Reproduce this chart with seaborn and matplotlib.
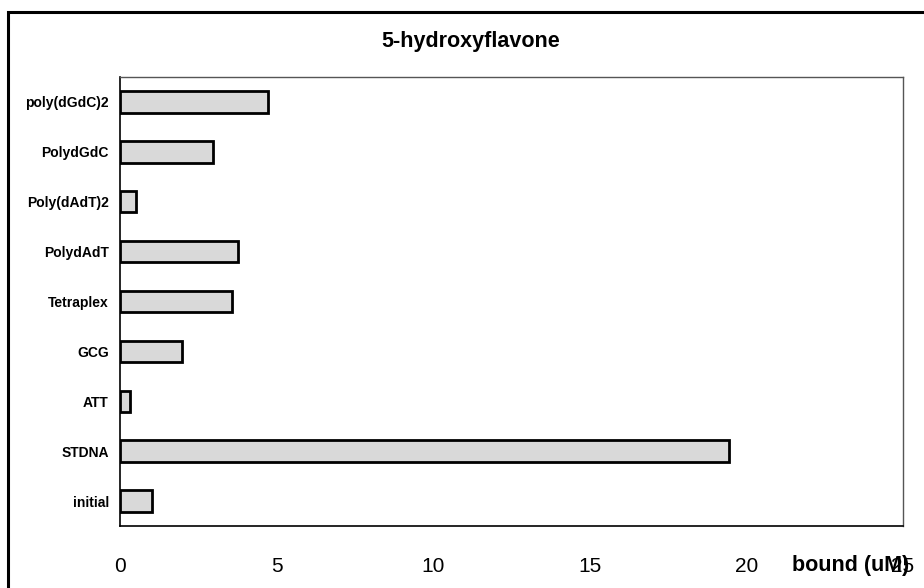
import matplotlib
matplotlib.use("Agg")
import matplotlib.pyplot as plt
import matplotlib.patches as mpatches
import seaborn as sns
import pandas as pd

# values (top to bottom)
categories = ["poly(dGdC)2", "PolydGdC", "Poly(dAdT)2", "PolydAdT", "Tetraplex",
              "GCG", "ATT", "STDNA", "initial"]
bound_um = [4.73, 2.98, 0.51, 3.78, 3.59, 1.98, 0.32, 19.46, 1.01]
x_ticks = [0, 5, 10, 15, 20, 25]

df = pd.DataFrame({"sample": categories, "bound": bound_um})

sns.set_style("white")
plt.rcParams["font.family"] = ["Liberation Sans", "DejaVu Sans"]
plt.rcParams["text.color"] = "black"
plt.rcParams["xtick.color"] = "black"
plt.rcParams["ytick.color"] = "black"

fig = plt.figure(figsize=(9.24, 5.88), dpi=100)
ax = fig.add_axes([120 / 924, 1 - 526 / 588, (903 - 120) / 924, (526 - 77) / 588])

sns.barplot(data=df, x="bound", y="sample", order=categories, orient="h",
            color="#d9d9d9", edgecolor="black", linewidth=2, width=0.43,
            saturation=1, ax=ax)

ax.set_xlim(0, 25)
ax.set_ylim(len(categories) - 0.5, -0.5)
ax.set_xticks(x_ticks)
ax.set_xticklabels([str(t) for t in x_ticks], fontsize=15)
ax.tick_params(axis="x", direction="out", length=4, width=1, pad=18)
ax.set_yticks(range(len(categories)))
ax.set_yticklabels(categories, fontsize=10, fontweight="bold")
ax.set_yticks([i + 0.5 for i in range(-1, len(categories))], minor=True)
ax.tick_params(axis="y", which="major", length=0, pad=8)
ax.tick_params(axis="y", which="minor", direction="out", length=4, width=1)
ax.set_xlabel("")
ax.set_ylabel("")

for side in ["left", "bottom"]:
    ax.spines[side].set_color("black")
    ax.spines[side].set_linewidth(1.2)
for side in ["top", "right"]:
    ax.spines[side].set_color("#555555")
    ax.spines[side].set_linewidth(1)

# axis label sits in the bottom right corner, over the last tick label
fig.text(851 / 924, 1 - 565 / 588, "bound (uM)", fontsize=15.5, fontweight="bold",
         ha="center", va="center")

fig.text(471 / 924, 1 - 42 / 588, "5-hydroxyflavone", fontsize=15.5,
         fontweight="bold", ha="center", va="center")

# outer frame of the chart object
frame = mpatches.Rectangle((8 / 924, -0.05), 1.0, 1 - 12 / 588 + 0.05,
                           transform=fig.transFigure, fill=False,
                           edgecolor="black", linewidth=2.2)
fig.add_artist(frame)

fig.savefig("out.png", dpi=100)
